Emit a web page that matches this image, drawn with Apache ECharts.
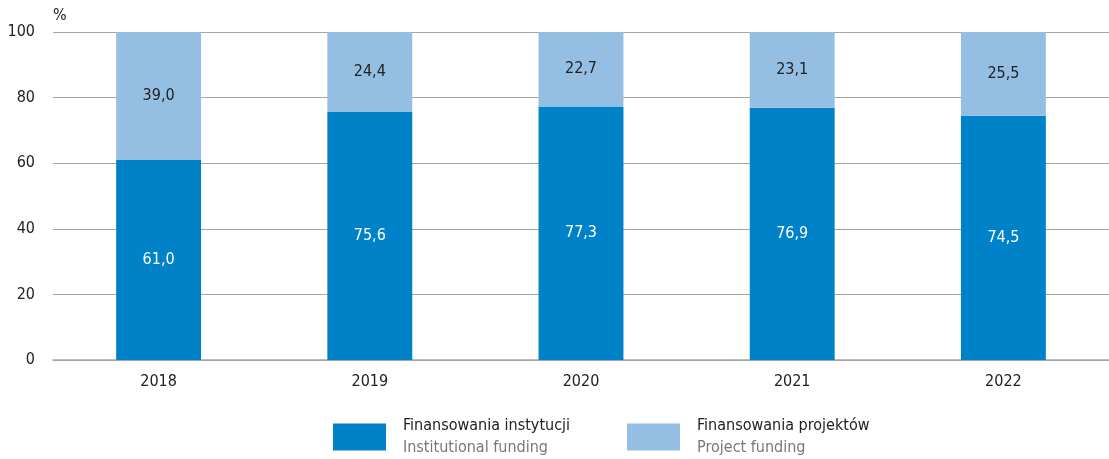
<!DOCTYPE html>
<html><head><meta charset="utf-8">
<script src="https://cdn.jsdelivr.net/npm/echarts@6/dist/echarts.min.js"></script>
<style>html,body{margin:0;padding:0;background:#fff}#c{width:1109px;height:459px}</style>
</head><body><div id="c"></div>
<script>
const categories = ['2018','2019','2020','2021','2022'];
const institutional = [61.0, 75.6, 77.3, 76.9, 74.5];
const project = [39.0, 24.4, 22.7, 23.1, 25.5];
const seriesNamesPL = ['Finansowania instytucji','Finansowania projektów'];
const seriesNamesEN = ['Institutional funding','Project funding'];
const yTicks = [0,20,40,60,80,100];

const FONT = '"Liberation Sans Narrow","DejaVu Sans Condensed","Roboto Condensed",sans-serif';
const fmt = v => v.toFixed(1).replace('.', ',');
const chart = echarts.init(document.getElementById('c'));
const legendRich = {
  a:{fontFamily:FONT,fontSize:16,color:'#222',lineHeight:22,padding:[0,0,0,12]},
  b:{fontFamily:FONT,fontSize:16,color:'#777',lineHeight:22,padding:[0,0,0,12]}
};
function legendFmt(name){const i=seriesNamesPL.indexOf(name);return '{a|'+name+'}\n{b|'+seriesNamesEN[i]+'}';}
chart.setOption({
  animation:false,
  grid:{left:53,right:0,top:32,bottom:99},
  legend:[
    {data:[seriesNamesPL[0]],left:328,top:413,itemWidth:53,itemHeight:27,icon:'rect',formatter:legendFmt,textStyle:{rich:legendRich},selectedMode:false},
    {data:[seriesNamesPL[1]],left:622,top:413,itemWidth:53,itemHeight:27,icon:'rect',formatter:legendFmt,textStyle:{rich:legendRich},selectedMode:false}
  ],
  xAxis:{type:'category',data:categories,axisTick:{show:false},
    axisLine:{lineStyle:{color:'#a6a6a6',width:1.5}},
    axisLabel:{fontFamily:FONT,fontSize:16,color:'#222',margin:14}},
  yAxis:{type:'value',min:yTicks[0],max:yTicks[yTicks.length-1],interval:20,
    name:'%',nameLocation:'end',nameGap:8,
    nameTextStyle:{fontFamily:FONT,fontSize:16,color:'#222',align:'left',padding:[0,0,0,0]},
    axisLine:{show:false},axisTick:{show:false},
    splitLine:{lineStyle:{color:'#a6a6a6',width:1.2}},
    axisLabel:{fontFamily:FONT,fontSize:16,color:'#222',margin:18}},
  series:[
    {name:seriesNamesPL[0],type:'bar',stack:'s',data:institutional,barWidth:'40.2%',
     itemStyle:{color:'#0082c8'},
     label:{show:true,position:'inside',color:'#fff',fontFamily:FONT,fontSize:16,formatter:p=>fmt(p.value)}},
    {name:seriesNamesPL[1],type:'bar',stack:'s',data:project,barWidth:'40.2%',
     itemStyle:{color:'#95bee3'},
     label:{show:true,position:'inside',color:'#222',fontFamily:FONT,fontSize:16,formatter:p=>fmt(p.value)}}
  ]
});
</script></body></html>
